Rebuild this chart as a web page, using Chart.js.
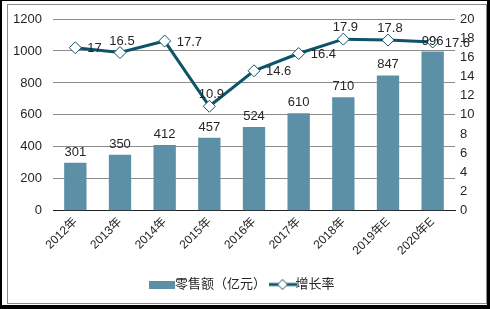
<!DOCTYPE html>
<html>
<head>
<meta charset="utf-8">
<script src="https://cdn.jsdelivr.net/npm/chart.js@4.4.1/dist/chart.umd.min.js"></script>
<style>
  html, body { margin: 0; padding: 0; background: #000; width: 490px; height: 309px; overflow: hidden; }
  #outer { position: absolute; left: 2px; top: 1px; width: 485px; height: 304px; background: #fff; }
  #inner { position: absolute; left: 7px; top: 4px; width: 478px; height: 298px; border: 1px solid #8c8c8c; }
  #wrap { position: absolute; left: 0; top: 0; width: 490px; height: 309px; }
</style>
</head>
<body>
<div id="outer"></div>
<div id="inner"></div>
<div id="wrap"><canvas id="chart"></canvas></div>
<script>
// 数据
const years = ["2012年", "2013年", "2014年", "2015年", "2016年", "2017年", "2018年", "2019年E", "2020年E"];
const sales = [301, 350, 412, 457, 524, 610, 710, 847, 996];
const growth = [17, 16.5, 17.7, 10.9, 14.6, 16.4, 17.9, 17.8, 17.6];
const growthLabelSide = ["right", "above", "right", "above", "right", "right", "above", "above", "right"];

const barColor = "#5b90a7";
const lineColor = "#0e5468";
const textColor = "#262626";
const font = "Liberation Sans, Arial, 'Noto Sans CJK SC', sans-serif";

// legend icons
function barIcon() {
  const c = document.createElement("canvas");
  c.width = 26; c.height = 8;
  const g = c.getContext("2d");
  g.fillStyle = barColor;
  g.fillRect(0, 0, 26, 8);
  return c;
}
function lineIcon() {
  const c = document.createElement("canvas");
  c.width = 28; c.height = 12;
  const g = c.getContext("2d");
  g.strokeStyle = lineColor;
  g.lineWidth = 3;
  g.beginPath(); g.moveTo(0, 6); g.lineTo(28, 6); g.stroke();
  g.fillStyle = "#fff"; g.lineWidth = 1;
  g.beginPath(); g.moveTo(14, 1); g.lineTo(19, 6); g.lineTo(14, 11); g.lineTo(9, 6); g.closePath();
  g.fill(); g.stroke();
  return c;
}

const valueLabels = {
  id: "valueLabels",
  afterDatasetsDraw(chart) {
    const ctx = chart.ctx;
    ctx.save();
    ctx.font = "13px " + font;
    ctx.fillStyle = textColor;
    // bar labels
    chart.getDatasetMeta(0).data.forEach((bar, i) => {
      ctx.textAlign = "center";
      ctx.textBaseline = "bottom";
      ctx.fillText(String(sales[i]), bar.x, bar.y - 4);
    });
    // line labels
    chart.getDatasetMeta(1).data.forEach((pt, i) => {
      if (growthLabelSide[i] === "above") {
        ctx.textAlign = "center";
        ctx.textBaseline = "bottom";
        ctx.fillText(String(growth[i]), pt.x + 2, pt.y - 5);
      } else {
        ctx.textAlign = "left";
        ctx.textBaseline = "middle";
        ctx.fillText(String(growth[i]), pt.x + 12, pt.y + 1);
      }
    });
    ctx.restore();
  }
};

new Chart(document.getElementById("chart"), {
  type: "bar",
  data: {
    labels: years,
    datasets: [
      {
        type: "bar",
        label: "零售额（亿元）",
        data: sales,
        backgroundColor: barColor,
        yAxisID: "y",
        barPercentage: 0.5,
        categoryPercentage: 1,
        order: 2
      },
      {
        type: "line",
        label: "增长率",
        data: growth,
        borderColor: lineColor,
        borderWidth: 3,
        pointStyle: "rectRot",
        pointRadius: 6,
        pointBackgroundColor: "#fff",
        pointBorderColor: lineColor,
        pointBorderWidth: 1,
        tension: 0,
        yAxisID: "y1",
        order: 1
      }
    ]
  },
  options: {
    responsive: true,
    maintainAspectRatio: false,
    animation: false,
    layout: { padding: { top: 19, bottom: 8, left: 0, right: 0 } },
    plugins: {
      tooltip: { enabled: false },
      legend: {
        position: "bottom",
        labels: {
          usePointStyle: true,
          color: textColor,
          font: { size: 13, family: font },
          padding: 10,
          generateLabels(chart) {
            return [
              { text: "零售额（亿元）", pointStyle: barIcon(), datasetIndex: 0, fontColor: textColor },
              { text: "增长率", pointStyle: lineIcon(), datasetIndex: 1, fontColor: textColor }
            ];
          }
        }
      }
    },
    scales: {
      x: {
        grid: { display: false, drawTicks: false },
        border: { display: true, color: "#222", width: 1 },
        ticks: {
          color: textColor,
          font: { size: 12, family: font },
          minRotation: 45,
          maxRotation: 45,
          padding: 4
        },
        afterFit(scale) { scale.height += 6; }
      },
      y: {
        position: "left",
        min: 0,
        max: 1200,
        grid: { color: "#8c8c8c", drawTicks: false },
        border: { display: false },
        ticks: {
          stepSize: 200,
          color: textColor,
          font: { size: 13, family: font },
          padding: 11,
          callback: (v) => String(v)
        },
        afterFit(scale) { scale.width = 53; }
      },
      y1: {
        position: "right",
        min: 0,
        max: 20,
        grid: { display: false, drawTicks: false },
        border: { display: false },
        ticks: {
          stepSize: 2,
          color: textColor,
          font: { size: 13, family: font },
          padding: 5
        },
        afterFit(scale) { scale.width = 35; }
      }
    }
  },
  plugins: [valueLabels]
});
</script>
</body>
</html>
